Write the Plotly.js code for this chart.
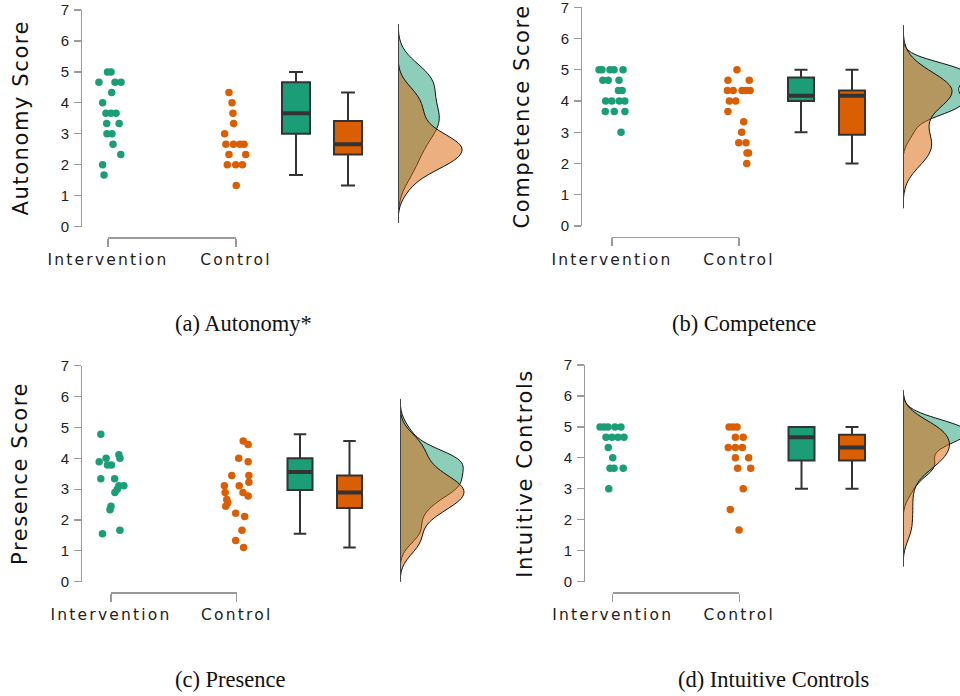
<!DOCTYPE html>
<html><head><meta charset="utf-8">
<script src="https://cdn.plot.ly/plotly-3.0.1.min.js"></script>
<style>
html,body{margin:0;padding:0;background:#fff;}
#chart{width:960px;height:696px;}
.xaxislayer-above text{letter-spacing:2.2px;}
.annotation[data-index="0"] text,.annotation[data-index="1"] text,.annotation[data-index="2"] text,.annotation[data-index="3"] text{letter-spacing:1.6px;}
</style></head><body><div id="chart"></div>
<script>
// ---------- DATA ----------
const groups = ['Intervention', 'Control'];
const yTitles = ['Autonomy Score', 'Competence Score', 'Presence Score', 'Intuitive Controls'];
const captions = ['(a) Autonomy*', '(b) Competence', '(c) Presence', '(d) Intuitive Controls'];
const yTicks = [0, 1, 2, 3, 4, 5, 6, 7];

// (a) Autonomy
const autonomyInt = [5, 5, 4.667, 4.667, 4.667, 4.333, 4, 3.667, 3.667, 3.667, 3.333, 3.333, 3, 3, 2.667, 2.333, 2, 1.667];
const autonomyIntJitter = [-0.004, 0.024, -0.071, 0.055, 0.102, 0.029, -0.042, -0.016, 0.024, 0.063, -0.010, 0.087, -0.008, 0.031, 0.039, 0.100, -0.042, -0.031];
const autonomyCtrl = [4.333, 4, 3.667, 3.333, 3, 2.667, 2.667, 2.667, 2.667, 2.333, 2.333, 2, 2, 2, 1.333];
const autonomyCtrlJitter = [-0.055, -0.031, -0.024, -0.018, -0.089, -0.079, -0.020, 0.031, 0.063, -0.055, 0.076, -0.068, -0.002, 0.050, 0.002];
// box stats: [lower whisker, Q1, median, Q3, upper whisker]
const autonomyBoxInt = [1.667, 3, 3.667, 4.667, 5];
const autonomyBoxCtrl = [1.333, 2.333, 2.667, 3.417, 4.333];

// (b) Competence
const competenceInt = [5, 5, 5, 5, 5, 4.667, 4.667, 4.667, 4.333, 4.333, 4, 4, 4, 4, 3.667, 3.667, 3.667, 3];
const competenceIntJitter = [-0.102, -0.079, -0.016, 0.016, 0.087, -0.072, -0.030, 0.055, 0.051, 0.080, -0.050, -0.002, 0.057, 0.101, -0.053, 0.018, 0.102, 0.071];
const competenceCtrl = [5, 4.667, 4.667, 4.333, 4.333, 4.333, 4.333, 4.333, 4, 4, 3.667, 3.333, 3, 2.667, 2.667, 2.333, 2.333, 2];
const competenceCtrlJitter = [-0.016, -0.087, 0.081, -0.091, -0.046, 0.024, 0.055, 0.087, -0.076, -0.026, -0.087, 0.037, 0.021, -0.002, 0.055, 0.063, 0.075, 0.061];
const competenceBoxInt = [3, 4, 4.167, 4.75, 5];
const competenceBoxCtrl = [2, 2.917, 4.167, 4.333, 5];

// (c) Presence
const presenceInt = [4.778, 4, 4.111, 4, 3.889, 3.778, 3.778, 3.333, 3.333, 3.111, 3.111, 3, 2.889, 2.444, 2.333, 1.667, 1.556];
const presenceIntJitter = [-0.081, -0.039, 0.063, 0.071, -0.094, -0.028, 0.004, -0.081, 0.029, 0.102, 0.063, 0.050, 0.031, 0.000, -0.008, 0.071, -0.068];
const presenceCtrl = [4.556, 4.444, 4, 3.889, 3.444, 3.444, 3.222, 3.111, 3.111, 2.889, 2.889, 2.778, 2.667, 2.556, 2.444, 2.222, 2.111, 1.667, 1.333, 1.111];
const presenceCtrlJitter = [0.052, 0.091, 0.016, 0.091, -0.039, 0.097, 0.097, -0.098, 0.020, -0.092, 0.050, 0.091, -0.079, -0.071, -0.087, -0.008, 0.063, 0.042, -0.008, 0.055];
const presenceBoxInt = [1.556, 2.972, 3.556, 4.0, 4.778];
const presenceBoxCtrl = [1.111, 2.389, 2.889, 3.444, 4.556];

// (d) Intuitive Controls
const intuitiveInt = [5, 5, 5, 5, 5, 4.667, 4.667, 4.667, 4.667, 4.333, 4, 3.667, 3.667, 3.667, 3];
const intuitiveIntJitter = [-0.100, -0.069, -0.037, 0.018, 0.065, -0.053, -0.006, 0.042, 0.089, -0.035, 0, -0.021, 0.010, 0.083, -0.031];
const intuitiveCtrl = [5, 5, 5, 4.667, 4.667, 4.333, 4.333, 4.333, 4, 4, 3.667, 3.667, 3, 2.333, 1.667];
const intuitiveCtrlJitter = [-0.081, -0.050, -0.018, -0.031, 0.031, -0.087, -0.031, 0.024, -0.031, 0.074, -0.013, 0.090, 0.031, -0.071, -0.002];
const intuitiveBoxInt = [3, 3.917, 4.667, 5, 5];
const intuitiveBoxCtrl = [3, 3.917, 4.333, 4.75, 5];

const panelsData = [
  {int: autonomyInt, intJ: autonomyIntJitter, ctrl: autonomyCtrl, ctrlJ: autonomyCtrlJitter, boxI: autonomyBoxInt, boxC: autonomyBoxCtrl},
  {int: competenceInt, intJ: competenceIntJitter, ctrl: competenceCtrl, ctrlJ: competenceCtrlJitter, boxI: competenceBoxInt, boxC: competenceBoxCtrl},
  {int: presenceInt, intJ: presenceIntJitter, ctrl: presenceCtrl, ctrlJ: presenceCtrlJitter, boxI: presenceBoxInt, boxC: presenceBoxCtrl},
  {int: intuitiveInt, intJ: intuitiveIntJitter, ctrl: intuitiveCtrl, ctrlJ: intuitiveCtrlJitter, boxI: intuitiveBoxInt, boxC: intuitiveBoxCtrl}
];

// ---------- LAYOUT GEOMETRY (pixels) ----------
const W = 960, H = 696;
const geo = [
  {y0: 226.7, y7: 10,    ax: 81,  t1: 108,   t2: 236,   by: 237.3, box: [296, 348],   bw: 28, vb: 398, right: 480, titleX: 21,  capX: 173, capY: 323},
  {y0: 226,   y7: 7.3,   ax: 581, t1: 612,   t2: 739,   by: 236.7, box: [801, 852],   bw: 26, vb: 903, right: 960, titleX: 522, capX: 670, capY: 323},
  {y0: 581.7, y7: 365.7, ax: 81,  t1: 111,   t2: 236.7, by: 592.3, box: [300, 349.5], bw: 25, vb: 400, right: 480, titleX: 20,  capX: 173, capY: 679},
  {y0: 581.7, y7: 365,   ax: 584, t1: 612.7, t2: 739.3, by: 592.3, box: [801.5, 852], bw: 26, vb: 903, right: 960, titleX: 525, capX: 676, capY: 679}
];
const VPX = 128;   // violin axis: px per unit (half-violin max = 0.5 unit)
const PAD = 0.25;  // extra category-units around the point strip axis
const GREEN = '#1b9e77', ORANGE = '#d95f02';
const GREEN_A = 'rgba(27,158,119,0.5)', ORANGE_A = 'rgba(217,95,2,0.5)';
const fx = p => p / W, fy = p => 1 - p / H;

function nrd0(v) {
  const n = v.length, s = v.slice().sort((a, b) => a - b);
  const m = s.reduce((a, b) => a + b, 0) / n;
  const sd = Math.sqrt(s.reduce((a, b) => a + (b - m) * (b - m), 0) / (n - 1));
  const q = p => { const h = (n - 1) * p, lo = Math.floor(h); return s[lo] + (h - lo) * (s[Math.min(lo + 1, n - 1)] - s[lo]); };
  let lo = Math.min(sd, (q(0.75) - q(0.25)) / 1.34);
  if (!lo) lo = sd || 1;
  return 0.9 * lo * Math.pow(n, -0.2);
}

const traces = [];
const layout = {
  width: W, height: H, margin: {l: 0, r: 0, t: 0, b: 0},
  paper_bgcolor: '#fff', plot_bgcolor: 'rgba(0,0,0,0)',
  showlegend: false, hovermode: false,
  violinmode: 'overlay', violingap: 0, violingroupgap: 0, boxmode: 'overlay',
  annotations: []
};
const axKey = id => (id[0] === 'x' ? 'xaxis' : 'yaxis') + (id.slice(1) === '1' ? '' : id.slice(1));

geo.forEach((g, k) => {
  const d = panelsData[k];
  const yId = 'y' + (k + 1);
  const xc = 'x' + (4 * k + 1), xp = 'x' + (4 * k + 2), xb = 'x' + (4 * k + 3), xv = 'x' + (4 * k + 4);

  layout[axKey(yId)] = {
    domain: [fy(g.y0), fy(g.y7)], range: [0, 7], anchor: 'free', position: fx(g.ax),
    tickvals: yTicks, ticks: 'outside', ticklen: 7, tickcolor: '#9a9a9a', tickwidth: 1.2,
    showline: true, linecolor: '#9a9a9a', linewidth: 1.2, showgrid: false, zeroline: false,
    ticklabelstandoff: 2, ticklabeloverflow: 'allow',
    tickfont: {family: 'Liberation Sans, Arial, sans-serif', size: 15, color: '#222'}, fixedrange: true
  };
  // cosmetic category axis (bracket between the two groups)
  layout[axKey(xc)] = {
    domain: [fx(g.t1), fx(g.t2)], range: [1, 2], anchor: 'free', position: fy(g.by),
    tickvals: [1, 2], ticktext: groups, ticks: 'outside', ticklen: 8, tickcolor: '#9a9a9a', tickwidth: 1.2,
    showline: true, linecolor: '#9a9a9a', linewidth: 1.2, showgrid: false, zeroline: false,
    ticklabeloverflow: 'allow',
    tickfont: {family: 'DejaVu Sans, sans-serif', size: 15.5, color: '#222'}, fixedrange: true
  };
  // same scale as category axis but wider, for the jittered points
  const span = g.t2 - g.t1;
  layout[axKey(xp)] = {domain: [fx(g.t1 - PAD * span), fx(g.t2 + PAD * span)], range: [1 - PAD, 2 + PAD],
    visible: false, anchor: yId, fixedrange: true};
  layout[axKey(xb)] = {domain: [fx(g.ax), fx(g.right)], range: [g.ax, g.right], visible: false, anchor: yId, fixedrange: true};
  const vr = Math.min(g.vb + VPX, W);
  layout[axKey(xv)] = {domain: [fx(g.vb), fx(vr)], range: [0, (vr - g.vb) / VPX], visible: false, anchor: yId, fixedrange: true};

  // empty trace so the category axis subplot exists
  traces.push({type: 'scatter', mode: 'markers', xaxis: xc, yaxis: yId, x: [], y: [], hoverinfo: 'skip'});

  // jittered points
  traces.push({type: 'scatter', mode: 'markers', xaxis: xp, yaxis: yId, cliponaxis: false,
    x: d.intJ.map(j => 1 + j), y: d.int, marker: {color: GREEN, size: 7.5}, hoverinfo: 'skip'});
  traces.push({type: 'scatter', mode: 'markers', xaxis: xp, yaxis: yId, cliponaxis: false,
    x: d.ctrlJ.map(j => 2 + j), y: d.ctrl, marker: {color: ORANGE, size: 7.5}, hoverinfo: 'skip'});

  // boxes
  [[d.boxI, GREEN, 0], [d.boxC, ORANGE, 1]].forEach(([b, col, i]) => {
    traces.push({type: 'box', orientation: 'v', xaxis: xb, yaxis: yId, x: [g.box[i]],
      lowerfence: [b[0]], q1: [b[1]], median: [b[2]], q3: [b[3]], upperfence: [b[4]],
      width: g.bw, whiskerwidth: 0.5, fillcolor: col, line: {color: '#333', width: 2},
      boxpoints: false, hoverinfo: 'skip'});
  });
  // thick median bars
  traces.push({type: 'scatter', mode: 'lines', xaxis: xb, yaxis: yId,
    x: [g.box[0] - g.bw / 2, g.box[0] + g.bw / 2, null, g.box[1] - g.bw / 2, g.box[1] + g.bw / 2],
    y: [d.boxI[2], d.boxI[2], null, d.boxC[2], d.boxC[2]],
    line: {color: '#333', width: 4}, hoverinfo: 'skip'});

  // half violins
  let lo = Infinity, hi = -Infinity;
  [[d.int, GREEN_A], [d.ctrl, ORANGE_A]].forEach(([vals, col]) => {
    const bw = nrd0(vals);
    const sp = [Math.min(...vals) - 3 * bw, Math.max(...vals) + 3 * bw];
    lo = Math.min(lo, sp[0]); hi = Math.max(hi, sp[1]);
    traces.push({type: 'violin', xaxis: xv, yaxis: yId, x0: 0, y: vals, side: 'positive',
      bandwidth: bw, spanmode: 'manual', span: sp, scalegroup: 'p' + k, scalemode: 'width',
      fillcolor: col, line: {color: '#111', width: 1}, points: false,
      box: {visible: false}, meanline: {visible: false}, hoverinfo: 'skip'});
  });
  traces.push({type: 'scatter', mode: 'lines', xaxis: xv, yaxis: yId, cliponaxis: false,
    x: [0, 0], y: [Math.max(lo, 0), Math.min(hi, 7)], line: {color: '#444', width: 2}, hoverinfo: 'skip'});
});

// y titles (annotations 0..3)
geo.forEach((g, k) => {
  layout.annotations.push({xref: 'paper', yref: 'paper', x: fx(g.titleX), y: fy((g.y0 + g.y7) / 2),
    xanchor: 'center', yanchor: 'middle', textangle: -90, showarrow: false, text: yTitles[k],
    font: {family: 'DejaVu Sans, sans-serif', size: 21, color: '#111'}});
});
// captions
geo.forEach((g, k) => {
  layout.annotations.push({xref: 'paper', yref: 'paper', x: fx(g.capX), y: fy(g.capY),
    xanchor: 'left', yanchor: 'middle', showarrow: false, text: captions[k],
    font: {family: 'Liberation Serif, serif', size: 22.5, color: '#111'}});
});

Plotly.newPlot('chart', traces, layout, {staticPlot: true, displayModeBar: false});
</script></body></html>
